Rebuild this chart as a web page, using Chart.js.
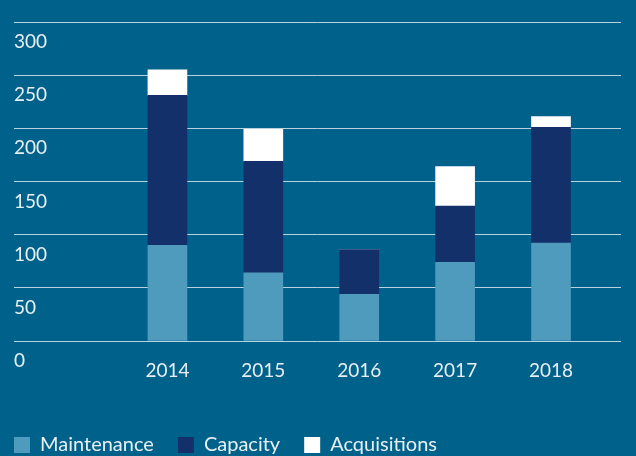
<!DOCTYPE html>
<html>
<head>
<meta charset="utf-8">
<script src="https://cdn.jsdelivr.net/npm/chart.js@4/dist/chart.umd.min.js"></script>
<style>
  html, body { margin: 0; padding: 0; background: #00628b; }
  #wrap { width: 636px; height: 456px; }
</style>
</head>
<body>
<div id="wrap"><canvas id="CapexChart"></canvas></div>
<script>
// data
const years = [2014, 2015, 2016, 2017, 2018];
const maintenance = [90, 64, 44, 74, 92];
const capacity = [141, 105, 42, 53, 109];
const acquisitions = [24, 30, 0, 37, 10];
const yTicks = [0, 50, 100, 150, 200, 250, 300];

const textColor = '#e8eff3';

// turn the year list and a series into {x, y} points for the linear x axis
function toPoints(values) {
    return years.map((year, i) => ({ x: year, y: values[i] }));
}

const ctx = document.getElementById('CapexChart').getContext('2d');
const CapexChart = new Chart(ctx, {
    type: 'bar',
    data: {
        datasets: [
            { label: 'Maintenance', data: toPoints(maintenance), backgroundColor: '#4e9bbd', borderWidth: 0, barThickness: 39 },
            { label: 'Capacity', data: toPoints(capacity), backgroundColor: '#13306a', borderWidth: 0, barThickness: 39 },
            { label: 'Acquisitions', data: toPoints(acquisitions), backgroundColor: '#ffffff', borderWidth: 0, barThickness: 39 },
        ],
    },
    options: {
        responsive: true,
        maintainAspectRatio: false,
        animation: false,
        layout: { padding: { top: 22, left: -10, right: 15, bottom: -9 } },
        scales: {
            x: {
                type: 'linear',
                stacked: true,
                offset: false,
                min: 2012.4,
                max: 2018.73,
                grid: { display: false },
                border: { display: false },
                afterFit: function(scale) { scale.height = 70; },
                afterBuildTicks: function(scale) {
                    scale.ticks = years.map(v => ({ value: v }));
                },
                ticks: {
                    autoSkip: false,
                    maxRotation: 0,
                    padding: 10,
                    color: textColor,
                    font: { family: 'Lato', size: 19 },
                    callback: function(value) { return String(value); },
                },
            },
            y: {
                stacked: true,
                min: 0,
                max: 300,
                afterFit: function(scale) { scale.width = 24; },
                afterBuildTicks: function(scale) {
                    scale.ticks = yTicks.map(v => ({ value: v }));
                },
                grid: { color: 'rgba(255,255,255,0.72)', lineWidth: 1, drawTicks: false },
                border: { display: false },
                ticks: {
                    mirror: true,
                    padding: 0,
                    labelOffset: 20,
                    color: textColor,
                    font: { family: 'Lato', size: 19 },
                },
            },
        },
        plugins: {
            tooltip: { enabled: false },
            legend: {
                position: 'bottom',
                align: 'start',
                labels: {
                    boxWidth: 16,
                    boxHeight: 16,
                    padding: 24,
                    color: textColor,
                    font: { family: 'Lato', size: 20 },
                },
            },
        },
    },
});
</script>
</body>
</html>
